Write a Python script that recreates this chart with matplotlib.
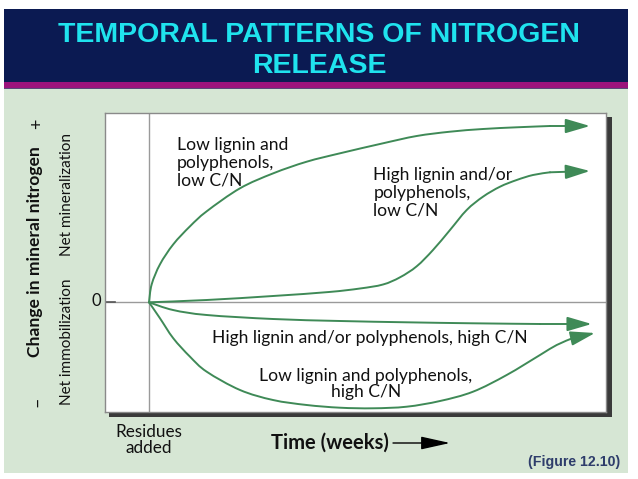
import matplotlib
matplotlib.use("Agg")
import matplotlib.pyplot as plt
from matplotlib.patches import Rectangle, PathPatch
from matplotlib.path import Path

# ---------------- data (time after residues added, change in mineral N; arbitrary units) -------------
t_low_low = [0, 2.7, 11, 24.3, 41, 57.7, 91, 124.3, 157.7, 191, 234, 267.7, 301, 334, 367.7, 401, 441]
n_low_low = [0, 18, 38, 58, 76, 91, 114, 129, 140.6, 149, 159, 166.3, 170.6, 173.3, 175, 176.3, 176.3]

t_high_low = [0, 57.7, 124, 180, 211, 234, 251, 267.7, 284, 301, 317.7, 334, 351, 367.7, 384, 401, 441]
n_high_low = [0, 2.3, 6.3, 10.3, 13.8, 17.8, 25, 36, 52.3, 72.3, 92.3, 105.6, 115.6, 122.3, 127.3, 130, 131.3]

t_high_high = [0, 24, 57.7, 124, 191, 257.7, 324, 391, 442.7]
n_high_high = [0, -7.7, -12.7, -16.7, -18.7, -20, -21, -21.7, -21.7]

t_low_high = [0, 11, 24.3, 41, 57.7, 91, 124, 157.7, 191, 224, 257.7, 291, 324, 357.7, 391, 407.7, 424, 446]
n_low_high = [0, -16, -36, -54.4, -69.4, -87.7, -97.7, -102.7, -105.4, -106, -104.4, -98.7, -89.4, -72.7, -52.7, -42.7, -35.7, -30.7]

series = [
    (t_low_low, n_low_low),
    (t_high_low, n_high_low),
    (t_high_high, n_high_high),
    (t_low_high, n_low_high),
]

title_text = "TEMPORAL PATTERNS OF NITROGEN\nRELEASE"
curve_labels = [
    "Low lignin and\npolyphenols,\nlow C/N",
    "High lignin and/or\npolyphenols,\nlow C/N",
    "High lignin and/or polyphenols, high C/N",
    "Low lignin and polyphenols,\nhigh C/N",
]


def smooth_path(xs, ys):
    """Bezier path passing through the given points (Catmull-Rom tangents)."""
    pts = list(zip(xs, ys))
    verts = [pts[0]]
    codes = [Path.MOVETO]
    n = len(pts)
    for i in range(n - 1):
        p0 = pts[i - 1] if i > 0 else pts[i]
        p1 = pts[i]
        p2 = pts[i + 1]
        p3 = pts[i + 2] if i + 2 < n else pts[i + 1]
        c1 = (p1[0] + (p2[0] - p0[0]) / 6, p1[1] + (p2[1] - p0[1]) / 6)
        c2 = (p2[0] - (p3[0] - p1[0]) / 6, p2[1] - (p3[1] - p1[1]) / 6)
        verts += [c1, c2, p2]
        codes += [Path.CURVE4] * 3
    return Path(verts, codes)


# ---------------- figure ----------------
W, H = 638, 479
fig = plt.figure(figsize=(W / 100, H / 100), dpi=100)
fig.patch.set_facecolor("white")

bg = fig.add_axes([0, 0, 1, 1], zorder=0)
bg.set_xlim(0, W)
bg.set_ylim(H, 0)
bg.axis("off")

NAVY = "#0b1a52"
CYAN = "#1fe3ee"
MAGENTA = "#9c127c"
PANEL = "#d6e6d4"
GREEN = "#3f8a57"
SERIF = ["Lato", "DejaVu Sans"]
INK = "#111111"

# header band
bg.add_patch(Rectangle((4, 9), 624, 73, facecolor=NAVY, edgecolor="none"))
bg.add_patch(Rectangle((4, 81.5), 624, 6, facecolor=MAGENTA, edgecolor="none"))
bg.add_patch(Rectangle((4, 87.5), 624, 1.5, facecolor="#5a4a7a", edgecolor="none"))
bg.text(319, 50.5, title_text, color=CYAN, fontsize=20.5, fontweight="bold",
        family=["Liberation Sans", "DejaVu Sans"], ha="center", va="center",
        linespacing=1.24)

# green panel
bg.add_patch(Rectangle((4, 89), 624, 384, facecolor=PANEL, edgecolor="none"))

# plot box shadow
bg.add_patch(Rectangle((109, 117), 503, 299.5, facecolor="#3a3a3a", edgecolor="none"))

# left labels
bg.text(35, 252, "Change in mineral nitrogen", rotation=90, ha="center", va="center",
        fontsize=12.6, fontweight="bold", family=SERIF, color=INK)
bg.text(37, 124, "+", rotation=90, ha="center", va="center", fontsize=13, family=SERIF, color=INK)
bg.text(37, 402, "\u2013", rotation=90, ha="center", va="center", fontsize=13, family=SERIF, color=INK)
bg.text(67, 195, "Net mineralization", rotation=90, ha="center", va="center",
        fontsize=11, family=SERIF, color=INK)
bg.text(67, 342, "Net immobilization", rotation=90, ha="center", va="center",
        fontsize=11, family=SERIF, color=INK)
bg.text(96, 301, "0", ha="center", va="center", fontsize=12, family=SERIF, color=INK)

# bottom labels
bg.text(149, 440, "Residues\nadded", ha="center", va="center", fontsize=12.3,
        family=SERIF, color=INK, linespacing=1.0)
bg.text(329.5, 443, "Time (weeks)", ha="center", va="center", fontsize=14.5,
        fontweight="bold", family=SERIF, color=INK)
bg.annotate("", xy=(450, 443), xytext=(393, 443),
            arrowprops=dict(arrowstyle="-|>,head_length=0.9,head_width=0.2",
                            color="black", lw=1.0, mutation_scale=20,
                            shrinkA=0, shrinkB=0))
bg.text(620, 462, "(Figure 12.10)", ha="right", va="center", fontsize=10.2,
        fontweight="bold", family=["Liberation Sans", "DejaVu Sans"], color="#2e3d6b")

# ---------------- main axes ----------------
L, R, T, B = 104.7, 606.0, 113.3, 411.5
X0, Y0 = 149.0, 302.3
ax = fig.add_axes([L / W, 1 - B / H, (R - L) / W, (B - T) / H], zorder=2)
ax.set_facecolor("white")
ax.set_xlim(L - X0, R - X0)
ax.set_ylim(Y0 - B, Y0 - T)
ax.set_xticks([])
ax.set_yticks([])
for sp in ax.spines.values():
    sp.set_color("#8a8a8a")
    sp.set_linewidth(1.0)

ax.axhline(0, color="#9a9a9a", lw=1.0, zorder=1)
ax.axvline(0, color="#9a9a9a", lw=1.0, zorder=1)
ax.plot([L - X0, L - X0 + 10], [0, 0], color="#555555", lw=1.2, zorder=1)

for t, n in series:
    ax.add_patch(PathPatch(smooth_path(t[:-1], n[:-1]), fill=False, edgecolor=GREEN,
                           lw=1.4, capstyle="round", joinstyle="round", zorder=3))
    ax.annotate("", xy=(t[-1], n[-1]), xytext=(t[-2], n[-2]),
                arrowprops=dict(arrowstyle="-|>,head_length=0.75,head_width=0.22",
                                color=GREEN, lw=1.4, mutation_scale=20,
                                shrinkA=0, shrinkB=0), zorder=3)

# curve labels
FS = 12.6
ax.text(176.7 - X0, Y0 - 137, curve_labels[0], ha="left", va="top", fontsize=FS,
        family=SERIF, color=INK, linespacing=1.12)
ax.text(373.3 - X0, Y0 - 167, curve_labels[1], ha="left", va="top", fontsize=FS,
        family=SERIF, color=INK, linespacing=1.12)
ax.text(370 - X0, Y0 - 338.3, curve_labels[2], ha="center", va="center", fontsize=FS,
        family=SERIF, color=INK)
ax.text(366 - X0, Y0 - 383.5, curve_labels[3], ha="center", va="center", fontsize=FS,
        family=SERIF, color=INK, linespacing=1.0)

fig.savefig("out.png", dpi=100, facecolor="white")
